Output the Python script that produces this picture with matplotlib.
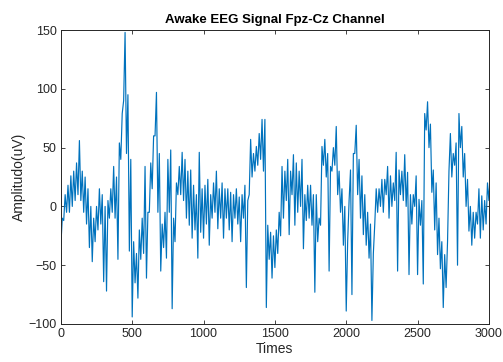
import numpy as np
import matplotlib
matplotlib.use('Agg')
import matplotlib.pyplot as plt

# inviluppo del segnale: ogni 20 campioni il minimo e il massimo (uV)
t0 = np.arange(0, 3001, 20)
amp_min = [-33, -12, -5, -5, 0, 5, 10, 5, -5, -15,
           -35, -47, -30, -20, -15, -64, -72, -10, -5, -10,
           -45, 40, 90, 45, -38, -94, -65, -78, -45, -40,
           -61, -5, 15, 60, -5, -55, -35, -44, -5, -87,
           -30, 10, 10, 5, -10, -16, -27, -20, -44, -22,
           -27, -15, -33, -10, -5, -19, -10, -27, -10, -20,
           -30, -10, -15, -30, -10, -69, 10, 25, 30, 35,
           40, 30, -86, -45, -61, -52, -40, -25, -10, 5,
           -24, 10, -16, -5, 0, -36, -12, -10, -16, -73,
           -30, -16, 35, 25, -55, 30, 35, 10, -5, -33,
           -89, 5, -75, 45, 10, -10, -24, -33, -44, -97,
           -15, -5, 0, -5, 10, -10, 0, 5, -55, 10,
           5, 0, -58, -15, 0, -58, -16, -66, 65, 50,
           12, -20, -41, -53, -86, -69, 30, 25, 35, -50,
           50, 25, 0, -21, -33, -27, -15, -27, -20, -15,
           5]
amp_max = [-10, 10, 18, 26, 30, 37, 56, 30, 25, 15,
           0, -10, 0, 15, 10, 0, 5, 15, 34, 25,
           54, 79, 148, 95, 40, -30, -40, -20, -10, 34,
           -5, 37, 60, 97, 45, -15, -5, 40, 48, -10,
           20, 34, 46, 40, 30, 31, 18, 10, 46, 15,
           18, 23, 10, 20, 30, 15, 20, 15, 15, 12,
           10, 15, 8, 10, 18, 5, 57, 45, 51, 62,
           74, 74, -16, -22, -25, -20, -5, 34, 30, 40,
           30, 44, 37, 30, 40, 10, 18, 18, 10, 10,
           -10, 51, 57, 45, 34, 50, 68, 30, 15, 0,
           -30, 31, 45, 69, 40, 26, 10, -5, -15, -40,
           15, 15, 23, 23, 34, 26, 20, 46, 31, 30,
           44, 29, 10, 10, 26, 6, 5, 79, 89, 70,
           31, 20, -10, -30, -41, -30, 62, 45, 54, 79,
           68, 45, 23, 0, -5, -5, 15, 9, 5, 20,
           29]

# linea che oscilla tra minimo e massimo come il tracciato originale
tt = np.column_stack([t0, t0 + 10]).ravel()
yy = np.column_stack([amp_min, amp_max]).ravel()

fig = plt.figure(figsize=(5.03, 3.62), dpi=100)
ax = fig.add_axes([0.121, 0.105, 0.851, 0.812])
ax.plot(tt, yy, color='#0072BD', linewidth=0.85)

ax.set_xlim(0, 3000)
ax.set_ylim(-100, 150)
ax.set_xticks(np.arange(0, 3001, 500))
ax.set_yticks(np.arange(-100, 151, 50))

font = 'Liberation Sans'
ax.set_title('Awake EEG Signal Fpz-Cz Channel', fontsize=9.5, fontweight='bold',
             family=font, pad=5)
ax.set_xlabel('Times', fontsize=10, family=font, color='#262626', labelpad=1)
ax.set_ylabel('Amplitudo(uV)', fontsize=10, family=font, color='#262626', labelpad=2)

ax.tick_params(direction='in', length=3, width=0.6, colors='#262626',
               labelsize=9, top=True, right=True, pad=3)
for lbl in ax.get_xticklabels() + ax.get_yticklabels():
    lbl.set_family(font)
for s in ax.spines.values():
    s.set_color('#262626')
    s.set_linewidth(0.7)

fig.savefig('out.png', dpi=100)
